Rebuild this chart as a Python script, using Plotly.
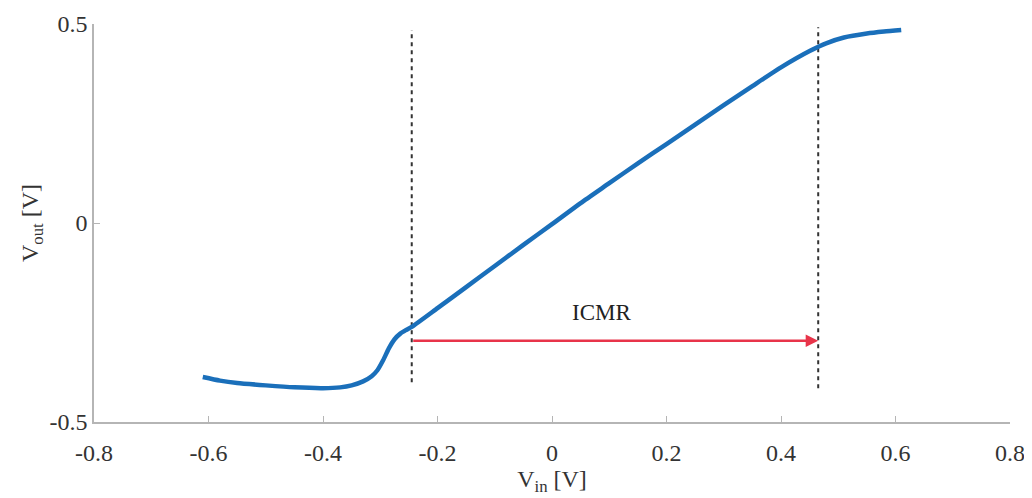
import plotly.graph_objects as go

# Measured transfer curve
vin = [-0.61, -0.58, -0.55, -0.50, -0.45, -0.40, -0.37, -0.35, -0.33, -0.315, -0.305,
       -0.295, -0.285, -0.275, -0.265, -0.255, -0.245, -0.20, -0.15, -0.10, -0.05, 0.0,
       0.05, 0.10, 0.15, 0.20, 0.25, 0.30, 0.35, 0.40, 0.45, 0.48, 0.51, 0.55, 0.58, 0.61]
vout = [-0.387, -0.396, -0.402, -0.408, -0.413, -0.415, -0.413, -0.408, -0.398, -0.385, -0.370,
        -0.345, -0.315, -0.292, -0.278, -0.269, -0.261, -0.214, -0.161, -0.108, -0.055, -0.003,
        0.050, 0.100, 0.150, 0.198, 0.247, 0.296, 0.344, 0.391, 0.432, 0.452, 0.466, 0.476, 0.481, 0.485]

# ICMR limits (dashed markers)
icmr_x = [-0.245, 0.465]
icmr_y_low = [-0.400, -0.415]
icmr_y_high = [0.485, 0.492]
arrow_y = -0.296
label_pos = (0.086, -0.226)
label_text = "ICMR"

x_ticks = [-0.8, -0.6, -0.4, -0.2, 0, 0.2, 0.4, 0.6, 0.8]
x_ticklabels = ["-0.8", "-0.6", "-0.4", "-0.2", "0", "0.2", "0.4", "0.6", "0.8"]
y_ticks = [-0.5, 0, 0.5]
y_ticklabels = ["-0.5", "0", "0.5"]

FONT = "Liberation Serif, Times New Roman, serif"

fig = go.Figure()

for xv, y0, y1 in zip(icmr_x, icmr_y_low, icmr_y_high):
    fig.add_trace(go.Scatter(x=[xv, xv], y=[y0, y1], mode="lines",
                             line=dict(color="#333333", width=2, dash="4px,4px"),
                             showlegend=False, hoverinfo="skip"))

fig.add_trace(go.Scatter(x=vin, y=vout, mode="lines",
                         line=dict(color="#1a6fba", width=4.5, shape="spline", smoothing=0.6),
                         showlegend=False))

fig.add_annotation(x=icmr_x[1], y=arrow_y, ax=icmr_x[0], ay=arrow_y,
                   xref="x", yref="y", axref="x", ayref="y",
                   showarrow=True, arrowhead=2, arrowsize=1, arrowwidth=2.5,
                   arrowcolor="#e8344a", text="")
fig.add_annotation(x=label_pos[0], y=label_pos[1], xref="x", yref="y",
                   text=label_text, showarrow=False,
                   font=dict(family=FONT, size=23, color="#222222"))

# the page body adds an 8 px offset, so the figure is sized to fit the window
fig.update_layout(
    width=1024, height=490,
    margin=dict(l=86, r=22, t=16, b=76),
    paper_bgcolor="white", plot_bgcolor="white",
    font=dict(family=FONT, size=22, color="#333333"),
)
fig.update_xaxes(range=[-0.8, 0.8], tickvals=x_ticks, ticktext=x_ticklabels,
                 automargin=False, ticklabelstandoff=8,
                 showgrid=False, zeroline=False, showline=True, linecolor="#b5b5b5",
                 linewidth=1.5, ticks="inside", ticklen=6, tickcolor="#b5b5b5",
                 tickfont=dict(family=FONT, size=24, color="#333333"),
                 title=dict(text="V<sub>in</sub> [V]", standoff=2,
                            font=dict(family=FONT, size=24, color="#333333")))
fig.update_yaxes(range=[-0.5, 0.5], tickvals=y_ticks, ticktext=y_ticklabels,
                 automargin=False,
                 showgrid=False, zeroline=False, showline=True, linecolor="#b5b5b5",
                 linewidth=1.5, ticks="inside", ticklen=6, tickcolor="#b5b5b5",
                 tickfont=dict(family=FONT, size=24, color="#333333"),
                 title=dict(text="V<sub>out</sub> [V]", standoff=4,
                            font=dict(family=FONT, size=24, color="#333333")))

fig.write_html("out.html")
